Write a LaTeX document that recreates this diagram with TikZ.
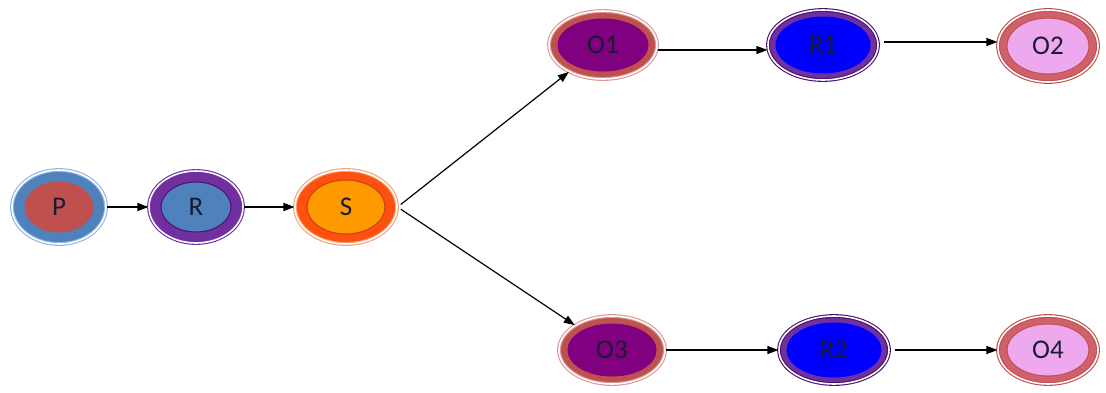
\documentclass[tikz,border=0pt]{standalone}
\usepackage{fontspec}
\setmainfont{Carlito}
\usepackage{tikz}
\usetikzlibrary{positioning,arrows.meta,shapes.geometric,calc}
\usepackage{xcolor}

\definecolor{pblue}{HTML}{4F81BD}
\definecolor{pred}{HTML}{C0504D}
\definecolor{lblue}{HTML}{8DB4E2}
\definecolor{purp}{HTML}{7030A0}
\definecolor{dpurp}{HTML}{4A1070}
\definecolor{sorange}{HTML}{FF9900}
\definecolor{sband}{HTML}{FF5010}
\definecolor{slight}{HTML}{F4A070}
\definecolor{salmon}{HTML}{D99694}
\definecolor{plum}{HTML}{800080}
\definecolor{pink}{HTML}{EEA8EE}
\definecolor{oband}{HTML}{D0606A}
\definecolor{txt}{HTML}{1A1A33}

\tikzset{
  bandx/.store in=\bandx, bandx=12pt,
  bandy/.store in=\bandy, bandy=10pt,
  blob/.style n args={4}{ellipse, fill=#2, draw=#1, line width=1.1pt,
    double=white, double distance=1.6pt, text=txt,
    font=\fontsize{27}{30}\selectfont, inner sep=0pt,
    path picture={\path[fill=#3,draw=#4,line width=1pt]
      let \p1=(path picture bounding box.north east),
          \p2=(path picture bounding box.center) in
      (\p2) ellipse ({\x1-\x2-\bandx} and {\y1-\y2-\bandy});}},
  link/.style={->,line width=1.2pt}
}

\begin{document}
\begin{tikzpicture}[x=1pt,y=-1pt,>={Triangle[length=11pt,width=8pt]}]
\useasboundingbox (0,0) rectangle (1106,392);
% left chain
\node[blob={lblue}{pblue}{pred}{pred},bandx=13pt,bandy=12pt,minimum width=94pt,minimum height=74pt] (P) at (59,207) {P};
\node[blob={purp}{purp}{pblue}{dpurp},bandx=12pt,bandy=11pt,minimum width=94pt,minimum height=72pt] (R) at (196,207) {R};
\node[blob={slight}{sband}{sorange}{sband!80!black},bandx=12pt,bandy=10pt,minimum width=102pt,minimum height=74pt] (S) at (346,207) {S};
% upper branch
\node[blob={salmon}{pred}{plum}{plum},bandx=9pt,bandy=8pt,minimum width=108pt,minimum height=68pt] (O1) at (603,45) {O1};
\node[blob={dpurp}{purp}{blue}{blue},bandx=8pt,bandy=7pt,minimum width=110pt,minimum height=70pt] (R1) at (823,45) {R1};
\node[blob={pred}{oband}{pink}{pred},bandx=9pt,bandy=8pt,minimum width=100pt,minimum height=72pt] (O2) at (1048,46) {O2};
% lower branch
\node[blob={salmon}{pred}{plum}{plum},bandx=9pt,bandy=8pt,minimum width=106pt,minimum height=68pt] (O3) at (612,350) {O3};
\node[blob={dpurp}{purp}{blue}{blue},bandx=8pt,bandy=7pt,minimum width=110pt,minimum height=68pt] (R2) at (834,350) {R2};
\node[blob={pred}{oband}{pink}{pred},bandx=9pt,bandy=8pt,minimum width=100pt,minimum height=68pt] (O4) at (1048,350) {O4};

\draw[link] (P) -- (R);
\draw[link] (R) -- (S);
\draw[link,shorten <=4pt] (S.east) -- (O1);
\draw[link,shorten <=4pt] (S.east) -- (O3);
\draw[link] (O1.east |- 0,50) -- (R1.west |- 0,50);
\draw[link,shorten <=5pt] (R1.east |- 0,42) -- (O2.west |- 0,42);
\draw[link] (O3) -- (R2);
\draw[link,shorten <=5pt] (R2) -- (O4);
\end{tikzpicture}
\end{document}
